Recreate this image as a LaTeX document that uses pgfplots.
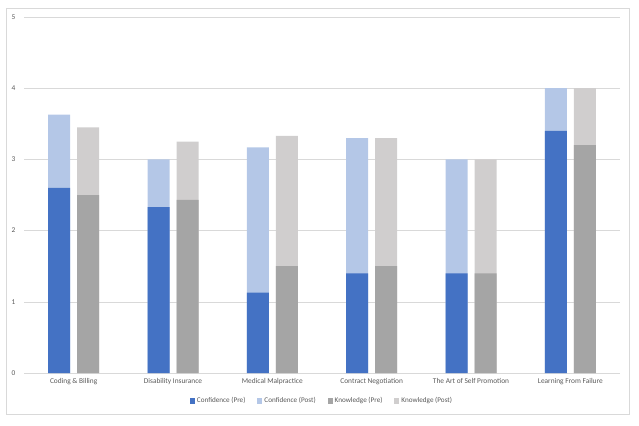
\documentclass[border=0pt]{standalone}
\usepackage{pgfplots}
\usepackage{pgfplotstable}
\pgfplotsset{compat=1.18}
\usepackage{fontspec}
\setmainfont{Carlito}

\definecolor{confpre}{HTML}{4472C4}
\definecolor{confpost}{HTML}{B4C7E7}
\definecolor{knowpre}{HTML}{A5A5A5}
\definecolor{knowpost}{HTML}{D0CECE}
\definecolor{gridc}{HTML}{D9D9D9}
\definecolor{txt}{HTML}{595959}

% pre and post scores, post bar drawn behind the pre bar
\pgfplotstableread{
x confpre confpost knowpre knowpost
0 2.60 3.63 2.50 3.45
1 2.33 3.00 2.43 3.25
2 1.13 3.17 1.50 3.33
3 1.40 3.30 1.50 3.30
4 1.40 3.00 1.40 3.00
5 3.40 4.00 3.20 4.00
}\scores

\begin{document}
\begin{tikzpicture}
\useasboundingbox (-24bp,-53bp) rectangle (615bp,373bp);
\draw[gridc, line width=0.6pt] (-18bp,-41bp) rectangle (605bp,365bp);
\begin{axis}[
    at={(0,0)}, anchor=south west,
    scale only axis,
    width=596bp, height=356bp,
    ybar, bar width=22bp,
    xmin=-0.5, xmax=5.5,
    ymin=0, ymax=5,
    xtick=data,
    xticklabels={Coding \& Billing, Disability Insurance, Medical Malpractice, Contract Negotiation, The Art of Self Promotion, Learning From Failure},
    ytick={0,1,2,3,4,5},
    /pgf/number format/assume math mode=true,
    tick label style={font=\fontsize{7.4}{8.5}\selectfont, text=txt},
    major tick length=0pt,
    ymajorgrids,
    grid style={gridc, line width=0.6pt},
    axis line style={draw=none},
    axis x line*=bottom,
    extra y ticks={0}, extra y tick labels={},
    extra y tick style={grid style={gridc, line width=0.8pt}},
    xticklabel style={yshift=-2bp},
    yticklabel style={xshift=-5bp},
    legend style={at={(0.5,-28bp)}, anchor=center, legend columns=4, draw=none,
        font=\fontsize{7.2}{8.5}\selectfont, text=txt,
        /tikz/every even column/.append style={column sep=10bp}},
    legend image code/.code={\fill[#1, draw=none] (2bp,-2.5bp) rectangle (7bp,2.5bp);},
]
\addplot[fill=confpost, draw=none, bar shift=-14.5bp, forget plot] table[x=x, y=confpost] {\scores};
\addplot[fill=confpre, draw=none, bar shift=-14.5bp, forget plot] table[x=x, y=confpre] {\scores};
\addplot[fill=knowpost, draw=none, bar shift=14.5bp, forget plot] table[x=x, y=knowpost] {\scores};
\addplot[fill=knowpre, draw=none, bar shift=14.5bp, forget plot] table[x=x, y=knowpre] {\scores};
\addlegendimage{fill=confpre, draw=none}
\addlegendentry{Confidence (Pre)}
\addlegendimage{fill=confpost, draw=none}
\addlegendentry{Confidence (Post)}
\addlegendimage{fill=knowpre, draw=none}
\addlegendentry{Knowledge (Pre)}
\addlegendimage{fill=knowpost, draw=none}
\addlegendentry{Knowledge (Post)}
\end{axis}
\end{tikzpicture}
\end{document}
